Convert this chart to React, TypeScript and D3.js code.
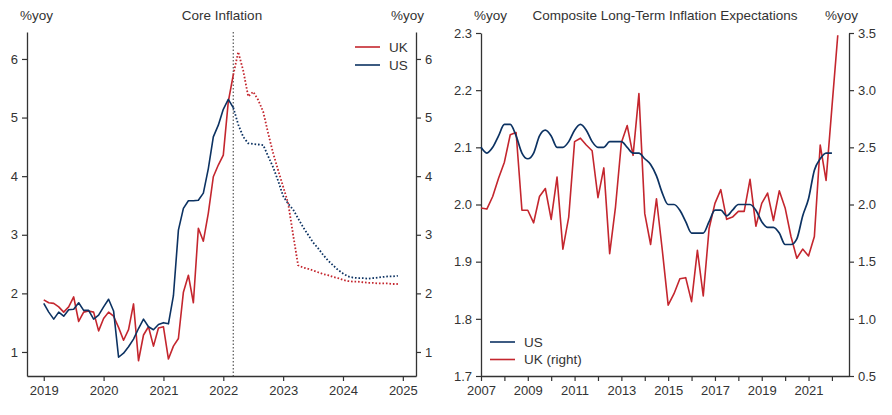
import React, { useEffect, useRef } from 'react'
import * as d3 from 'd3'

const RED = '#c4262e'
const NAVY = '#0c3262'
const INK = '#333333'
const FONT = '"Liberation Sans", Arial, sans-serif'

// Core inflation, %yoy, monthly from Jan 2019 to Mar 2022
const coreStartYear = 2019
const ukCore = [1.89, 1.84, 1.83, 1.77, 1.68, 1.77, 1.94, 1.52, 1.68, 1.70, 1.68, 1.36,
    1.57, 1.68, 1.61, 1.42, 1.20, 1.38, 1.82, 0.85, 1.29, 1.43, 1.10, 1.41,
    1.43, 0.88, 1.10, 1.23, 2.02, 2.31, 1.84, 3.11, 2.89, 3.37, 3.99, 4.19,
    4.36, 5.27, 5.73]
const usCore = [1.83, 1.68, 1.56, 1.68, 1.61, 1.72, 1.73, 1.84, 1.71, 1.71, 1.56, 1.63,
    1.77, 1.90, 1.70, 0.91, 0.98, 1.09, 1.22, 1.40, 1.56, 1.43, 1.38, 1.47,
    1.50, 1.48, 1.96, 3.08, 3.45, 3.58, 3.58, 3.59, 3.71, 4.13, 4.67, 4.87,
    5.14, 5.31, 5.17]
// forecasts (dotted), month 38 (Mar 2022) to Dec 2024
const forecastStartMonth = 38
const ukForecast = [5.73, 6.12, 5.80, 5.36, 5.44, 5.30, 5.10, 4.73, 4.39, 4.10, 3.82, 3.54,
    3.00, 2.48, 2.44, 2.42, 2.39, 2.36, 2.33, 2.31, 2.28, 2.26, 2.23, 2.21,
    2.20, 2.20, 2.19, 2.18, 2.18, 2.17, 2.17, 2.17, 2.16, 2.16]
const usForecast = [5.17, 4.88, 4.67, 4.56, 4.55, 4.54, 4.53, 4.34, 4.15, 3.92, 3.66, 3.53,
    3.43, 3.28, 3.13, 3.00, 2.87, 2.77, 2.66, 2.56, 2.48, 2.40, 2.34, 2.29,
    2.27, 2.26, 2.26, 2.25, 2.26, 2.27, 2.28, 2.29, 2.29, 2.30]
const cutoffDate = 2022 + 2 / 12
const coreYearTicks = [2019, 2020, 2021, 2022, 2023, 2024, 2025]
const coreValueTicks = [1, 2, 3, 4, 5, 6]

// Composite long-term inflation expectations, quarterly from 2007Q1
const expStartYear = 2007
const usExp = [2.10, 2.09, 2.10, 2.12, 2.14, 2.14, 2.12, 2.09, 2.08, 2.09, 2.12, 2.13,
    2.12, 2.10, 2.10, 2.11, 2.13, 2.14, 2.13, 2.11, 2.10, 2.10, 2.11, 2.11,
    2.11, 2.10, 2.09, 2.09, 2.08, 2.07, 2.05, 2.02, 2.00, 2.00, 1.99, 1.97,
    1.95, 1.95, 1.95, 1.97, 1.99, 1.99, 1.98, 1.99, 2.00, 2.00, 2.00, 1.99,
    1.97, 1.96, 1.96, 1.95, 1.93, 1.93, 1.94, 1.98, 2.01, 2.06, 2.08, 2.09, 2.09]
const ukExp = [1.97, 1.96, 2.07, 2.23, 2.37, 2.61, 2.63, 1.95, 1.95, 1.84, 2.07, 2.14,
    1.87, 2.24, 1.61, 1.89, 2.55, 2.58, 2.52, 2.47, 2.06, 2.32, 1.57, 1.98,
    2.54, 2.69, 2.43, 2.97, 1.92, 1.65, 2.05, 1.60, 1.12, 1.22, 1.35, 1.36,
    1.15, 1.60, 1.20, 1.79, 2.01, 2.13, 1.87, 1.89, 1.94, 1.94, 2.22, 1.81,
    2.01, 2.10, 1.86, 2.12, 1.97, 1.72, 1.53, 1.61, 1.55, 1.72, 2.52, 2.21, 2.85, 3.48]
const expYearTicks = [2007, 2008, 2009, 2010, 2011, 2012, 2013, 2014, 2015, 2016, 2017, 2018, 2019, 2020, 2021, 2022]
const expYearLabels = [2007, 2009, 2011, 2013, 2015, 2017, 2019, 2021]
const expLeftTicks = [1.7, 1.8, 1.9, 2.0, 2.1, 2.2, 2.3]
const expRightTicks = [0.5, 1.0, 1.5, 2.0, 2.5, 3.0, 3.5]

type Pt = [number, number]

const styleAxis = (g: d3.Selection<SVGGElement, unknown, null, undefined>) => {
    g.selectAll('path.domain').attr('stroke', INK).attr('stroke-width', 1.3)
    g.selectAll('.tick line').attr('stroke', INK).attr('stroke-width', 1.2)
    g.selectAll('.tick text').attr('fill', INK).style('font-size', '13px').style('font-family', FONT)
}

const App = () => {
    const ref = useRef<SVGSVGElement | null>(null)

    useEffect(() => {
        const svg = d3.select(ref.current)
        svg.selectAll('*').remove()

        const label = (x: number, y: number, t: string, anchor = 'middle') => {
            svg.append('text').attr('x', x).attr('y', y).attr('text-anchor', anchor)
                .attr('fill', INK).style('font-size', '13.5px').style('font-family', FONT).text(t)
        }

        // ---------- left panel: core inflation ----------
        const L = { left: 27, right: 416, top: 32, bottom: 376 }
        const x1 = d3.scaleLinear().domain([2018.72, 2025.22]).range([L.left, L.right])
        const y1 = d3.scaleLinear().domain([0.59, 6.46]).range([L.bottom, L.top])

        svg.append('g').attr('transform', `translate(${L.left},0)`)
            .call(d3.axisLeft(y1).tickValues(coreValueTicks).tickFormat(d3.format('d')).tickSize(5).tickPadding(4).tickSizeOuter(0))
            .call(styleAxis)
        svg.append('g').attr('transform', `translate(${L.right},0)`)
            .call(d3.axisRight(y1).tickValues(coreValueTicks).tickFormat(d3.format('d')).tickSize(5).tickPadding(4).tickSizeOuter(0))
            .call(styleAxis)
        svg.append('g').attr('transform', `translate(0,${L.bottom})`)
            .call(d3.axisBottom(x1).tickValues(coreYearTicks).tickFormat(d3.format('d')).tickSize(5).tickPadding(5).tickSizeOuter(0))
            .call(styleAxis)

        svg.append('line')
            .attr('x1', x1(cutoffDate)).attr('x2', x1(cutoffDate))
            .attr('y1', L.top).attr('y2', L.bottom)
            .attr('stroke', '#555').attr('stroke-width', 1.2).attr('stroke-dasharray', '1.5,2')

        const line1 = d3.line<Pt>().x(d => x1(d[0])).y(d => y1(d[1]))
        const monthly = (vals: number[], start: number): Pt[] =>
            vals.map((v, i) => [coreStartYear + (start + i) / 12, v])

        const corePaths: [number[], number, string, boolean][] = [
            [ukForecast, forecastStartMonth, RED, true],
            [usForecast, forecastStartMonth, NAVY, true],
            [ukCore, 0, RED, false],
            [usCore, 0, NAVY, false],
        ]
        corePaths.forEach(([vals, start, color, dotted]) => {
            svg.append('path').attr('d', line1(monthly(vals, start)))
                .attr('fill', 'none').attr('stroke', color)
                .attr('stroke-width', dotted ? 1.8 : 1.6)
                .attr('stroke-dasharray', dotted ? '1.6,1.9' : null)
                .attr('stroke-linejoin', 'round')
        })

        label(222, 20, 'Core Inflation')
        label(20, 20, '%yoy', 'start')
        label(424, 20, '%yoy', 'end')

        // legend
        const legend1: [string, string][] = [['UK', RED], ['US', NAVY]]
        legend1.forEach(([name, color], i) => {
            const yy = 47 + i * 18
            svg.append('line').attr('x1', 355).attr('x2', 380).attr('y1', yy).attr('y2', yy)
                .attr('stroke', color).attr('stroke-width', 1.6)
            label(389, yy + 4.5, name, 'start')
        })

        // ---------- right panel: long-term expectations ----------
        const R = { left: 481, right: 849, top: 33, bottom: 376 }
        const x2 = d3.scaleLinear().domain([2007, 2022.73]).range([R.left, R.right])
        const y2 = d3.scaleLinear().domain([1.7, 2.3]).range([R.bottom, R.top])
        const y2r = d3.scaleLinear().domain([0.5, 3.5]).range([R.bottom, R.top])

        svg.append('g').attr('transform', `translate(${R.left},0)`)
            .call(d3.axisLeft(y2).tickValues(expLeftTicks).tickFormat(d3.format('.1f')).tickSize(5).tickPadding(4).tickSizeOuter(0))
            .call(styleAxis)
        svg.append('g').attr('transform', `translate(${R.right},0)`)
            .call(d3.axisRight(y2r).tickValues(expRightTicks).tickFormat(d3.format('.1f')).tickSize(5).tickPadding(4).tickSizeOuter(0))
            .call(styleAxis)
        svg.append('g').attr('transform', `translate(0,${R.bottom})`)
            .call(d3.axisBottom(x2).tickValues(expYearTicks)
                .tickFormat(d => (expYearLabels.includes(+d) ? String(d) : ''))
                .tickSize(5).tickPadding(5).tickSizeOuter(0))
            .call(styleAxis)

        const quarterly = (vals: number[]): Pt[] => vals.map((v, i) => [expStartYear + i / 4, v])
        svg.append('path')
            .attr('d', d3.line<Pt>().x(d => x2(d[0])).y(d => y2r(d[1]))(quarterly(ukExp)))
            .attr('fill', 'none').attr('stroke', RED).attr('stroke-width', 1.6).attr('stroke-linejoin', 'round')
        svg.append('path')
            .attr('d', d3.line<Pt>().x(d => x2(d[0])).y(d => y2(d[1])).curve(d3.curveMonotoneX)(quarterly(usExp)))
            .attr('fill', 'none').attr('stroke', NAVY).attr('stroke-width', 1.7)

        label(665, 20, 'Composite Long-Term Inflation Expectations')
        label(474, 20, '%yoy', 'start')
        label(858, 20, '%yoy', 'end')

        const legend2: [string, string][] = [['US', NAVY], ['UK (right)', RED]]
        legend2.forEach(([name, color], i) => {
            const yy = 342 + i * 17.5
            svg.append('line').attr('x1', 490).attr('x2', 515).attr('y1', yy).attr('y2', yy)
                .attr('stroke', color).attr('stroke-width', 1.6)
            label(524, yy + 4.5, name, 'start')
        })
    }, [])

    return (
        <div style={{ position: 'absolute', left: 0, top: 0, background: '#fff' }}>
            <svg ref={ref} width={892} height={415} style={{ display: 'block' }} />
        </div>
    )
}

export default App
